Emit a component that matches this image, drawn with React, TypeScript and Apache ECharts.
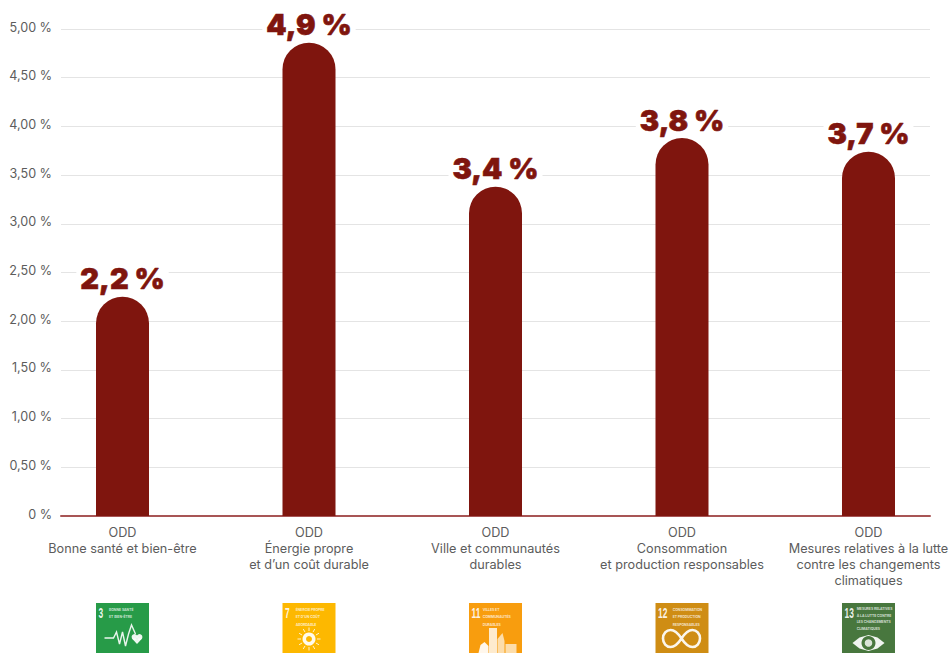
import React, { useEffect, useRef } from "react";
import * as echarts from "echarts";

const categories = [
  "ODD\nBonne santé et bien-être",
  "ODD\nÉnergie propre\net d’un coût durable",
  "ODD\nVille et communautés\ndurables",
  "ODD\nConsommation\net production responsables",
  "ODD\nMesures relatives à la lutte\ncontre les changements\nclimatiques",
];
const barValues = [2.25, 4.86, 3.38, 3.88, 3.74];
const barLabels = ["2,2 %", "4,9 %", "3,4 %", "3,8 %", "3,7 %"];
const iconNumbers = ["3", "7", "11", "12", "13"];
const iconColors = ["#279b48", "#fdb800", "#f89d0e", "#cf8d14", "#48773e"];
const iconTitles = [
  "BONNE SANTÉ\nET BIEN-ÊTRE",
  "ÉNERGIE PROPRE\nET D’UN COÛT\nABORDABLE",
  "VILLES ET\nCOMMUNAUTÉS\nDURABLES",
  "CONSOMMATION\nET PRODUCTION\nRESPONSABLES",
  "MESURES RELATIVES\nÀ LA LUTTE CONTRE\nLES CHANGEMENTS\nCLIMATIQUES",
];
const iconTitleOffsets = [-13.5, -13.3, -12.8, -9.3, -11.8];
const iconTitleLeading = [7.5, 7.5, 7.5, 7.5, 6.5];

const FONT = "Inter";
const INFINITY_PATH =
  "M18 8.5 C14 3,11 1.5,8 1.5 A7 7 0 0 0 8 15.5 C11 15.5,14 14,18 8.5 C22 3,25 1.5,28 1.5 A7 7 0 0 1 28 15.5 C25 15.5,22 14,18 8.5 Z";

function iconGlyph(i: number, cx: number, top: number): any[] {
  const w = { stroke: "#fff", fill: "none", lineWidth: 1.4, opacity: 0.9 };
  const fillW = { fill: "#fff", opacity: 0.92 };
  if (i === 0) {
    return [
      {
        type: "polyline",
        shape: {
          points: [
            [cx - 18, top + 35], [cx - 9, top + 35], [cx - 6, top + 29], [cx - 3, top + 41],
            [cx, top + 29], [cx + 3, top + 43], [cx + 6, top + 31], [cx + 9, top + 22], [cx + 13, top + 31],
          ],
        },
        style: w,
      },
      { type: "circle", shape: { cx: cx + 12, cy: top + 34, r: 2.9 }, style: fillW },
      { type: "circle", shape: { cx: cx + 17, cy: top + 34, r: 2.9 }, style: fillW },
      { type: "polygon", shape: { points: [[cx + 9.4, top + 35.5], [cx + 19.6, top + 35.5], [cx + 14.5, top + 41]] }, style: fillW },
    ];
  }
  if (i === 1) {
    const rays: any[] = [];
    for (let k = 0; k < 12; k++) {
      const a = (k * Math.PI) / 6;
      rays.push({
        type: "line",
        shape: {
          x1: cx + Math.cos(a) * 8,
          y1: top + 36 + Math.sin(a) * 8,
          x2: cx + Math.cos(a) * 11.5,
          y2: top + 36 + Math.sin(a) * 11.5,
        },
        style: { stroke: "#fff", lineWidth: 1, opacity: 0.8 },
      });
    }
    return [{ type: "ring", shape: { cx, cy: top + 36, r: 6.5, r0: 3 }, style: fillW }, ...rays];
  }
  if (i === 2) {
    return [
      { type: "rect", shape: { x: cx - 6.5, y: top + 25, width: 8, height: 25 }, style: { fill: "#fff", opacity: 0.8 } },
      { type: "polygon", shape: { points: [[cx + 2, top + 50], [cx + 2, top + 36], [cx + 7, top + 30], [cx + 9, top + 38], [cx + 9, top + 50]] }, style: { fill: "#fff", opacity: 0.65 } },
      { type: "rect", shape: { x: cx + 10, y: top + 41, width: 11, height: 9 }, style: { fill: "#fff", opacity: 0.65 } },
      { type: "polygon", shape: { points: [[cx - 17, top + 50], [cx - 15, top + 42], [cx - 11, top + 39], [cx - 7, top + 43], [cx - 7, top + 50]] }, style: fillW },
    ];
  }
  if (i === 3) {
    return [
      {
        type: "path",
        shape: { pathData: INFINITY_PATH, x: cx - 19, y: top + 27, width: 37, height: 17, layout: "cover" },
        style: { fill: "none", stroke: "#fff", lineWidth: 2.6, opacity: 0.92 },
      },
    ];
  }
  return [
    {
      type: "polygon",
      shape: {
        points: [
          [cx - 16, top + 40], [cx - 9, top + 34.5], [cx, top + 32], [cx + 9, top + 34.5],
          [cx + 16, top + 40], [cx + 9, top + 45.5], [cx, top + 48], [cx - 9, top + 45.5],
        ],
      },
      style: fillW,
    },
    { type: "circle", shape: { cx, cy: top + 40, r: 7 }, style: { fill: iconColors[4] } },
    { type: "circle", shape: { cx, cy: top + 40, r: 3.8 }, style: { fill: "#fff", opacity: 0.8 } },
  ];
}

export default function App() {
  const ref = useRef<HTMLDivElement>(null);

  useEffect(() => {
    document.body.style.margin = "0";
    const chart = echarts.init(ref.current!, undefined, { renderer: "svg" });
    chart.setOption({
      animation: false,
      backgroundColor: "#fff",
      grid: { left: 61, right: 19, top: 29, bottom: 137, containLabel: false, outerBoundsMode: "none" },
      xAxis: {
        type: "value",
        min: -0.3298,
        max: 4.3298,
        splitLine: { show: false },
        axisLine: { show: true, onZero: false, lineStyle: { color: "#a85555", width: 2 } },
        axisTick: { show: false },
        axisLabel: {
          show: true,
          customValues: [0, 1, 2, 3, 4],
          formatter: (v: number) => categories[Math.round(v)] ?? "",
          color: "#5c5c5c",
          fontFamily: FONT,
          fontSize: 12.7,
          lineHeight: 16,
          margin: 8,
          verticalAlign: "top",
        },
      },
      yAxis: {
        type: "value",
        min: 0,
        max: 5,
        interval: 0.5,
        axisLine: { show: false },
        axisTick: { show: false },
        splitLine: { show: true, lineStyle: { color: "#e4e4e4", width: 1 } },
        axisLabel: {
          color: "#5c5c5c",
          fontFamily: FONT,
          fontSize: 12.6,
          margin: 9,
          lineHeight: 4,
          verticalAlign: "bottom",
          formatter: (v: number) => (v === 0 ? "0 %" : v.toFixed(2).replace(".", ",") + " %"),
        },
      },
      series: [
        {
          type: "bar",
          barWidth: 53,
          data: barValues.map((v, i) => [i, v]),
          itemStyle: { color: "#7f150e", borderRadius: [26.5, 26.5, 0, 0] },
          label: {
            show: true,
            position: "top",
            distance: 1,
            formatter: (p: any) => barLabels[p.dataIndex],
            color: "#7f150e",
            fontFamily: FONT,
            fontWeight: 900,
            fontSize: 29,
            lineHeight: 30,
            textBorderColor: "#7f150e",
            textBorderWidth: 0.6,
            backgroundColor: "#fff",
            padding: [0, 4, 2, 4],
          },
          z: 3,
        },
        {
          type: "custom",
          silent: true,
          clip: false,
          data: iconColors.map((_, i) => [i, 0]),
          z: 4,
          renderItem: (params: any, api: any) => {
            const i = params.dataIndex;
            const cx = api.coord([api.value(0), 0])[0];
            const top = 603;
            return {
              type: "group",
              children: [
                { type: "rect", shape: { x: cx - 26.5, y: top, width: 53, height: 50 }, style: { fill: iconColors[i] } },
                {
                  type: "text",
                  x: cx - 24,
                  y: top + 3,
                  scaleX: 0.6,
                  style: {
                    text: iconNumbers[i],
                    fill: "#fff",
                    opacity: 0.9,
                    font: `700 14px "Liberation Sans", sans-serif`,
                  },
                },
                {
                  type: "text",
                  style: {
                    x: cx + iconTitleOffsets[i],
                    y: top + 3,
                    text: iconTitles[i],
                    fill: "#fff",
                    opacity: 0.75,
                    font: `700 3.4px ${FONT}`,
                    lineHeight: iconTitleLeading[i],
                  },
                },
                ...iconGlyph(i, cx, top),
              ],
            };
          },
        },
      ],
    });
    return () => chart.dispose();
  }, []);

  return <div ref={ref} style={{ position: "absolute", left: 0, top: 0, width: 949, height: 653 }} />;
}
